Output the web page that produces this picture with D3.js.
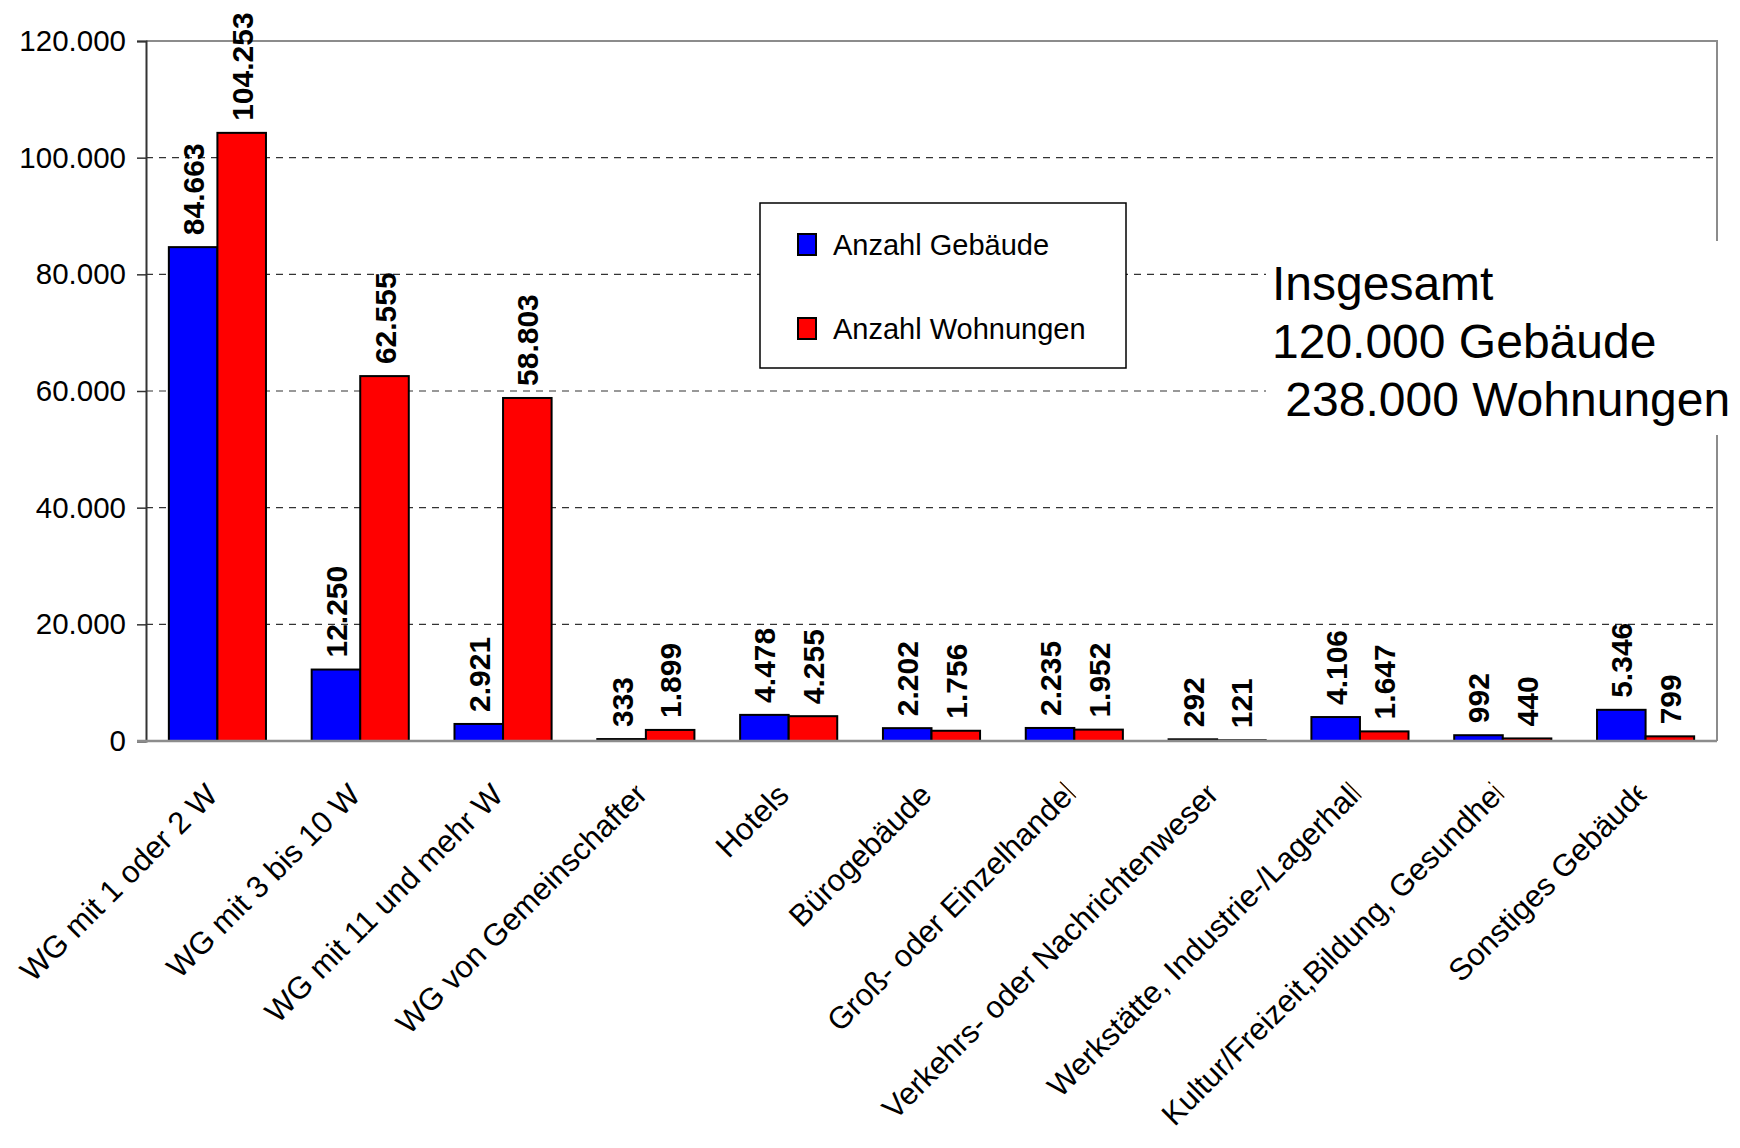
<!DOCTYPE html>
<html>
<head>
<meta charset="utf-8">
<script src="https://cdn.jsdelivr.net/npm/d3@7"></script>
<style>
  body { margin: 0; background: #fff; }
  svg { display: block; }
  text { font-family: "Liberation Sans", Arial, sans-serif; }
</style>
</head>
<body>
<div id="chart"></div>
<script>
// Data
const categories = [
    'WG mit 1 oder 2 W',
    'WG mit 3 bis 10 W',
    'WG mit 11 und mehr W',
    'WG von Gemeinschaften',
    'Hotels',
    'Bürogebäude',
    'Groß- oder Einzelhandel',
    'Verkehrs- oder Nachrichtenwesen',
    'Werkstätte, Industrie-/Lagerhall',
    'Kultur/Freizeit,Bildung, Gesundhei',
    'Sonstiges Gebäude'
];
const truncated = [false, false, false, true, false, false, true, true, true, true, true];
const gebaeude = [84663, 12250, 2921, 333, 4478, 2202, 2235, 292, 4106, 992, 5346];
const wohnungen = [104253, 62555, 58803, 1899, 4255, 1756, 1952, 121, 1647, 440, 799];
const seriesNames = ['Anzahl Gebäude', 'Anzahl Wohnungen'];
const seriesColors = ['#0000ff', '#ff0000'];
const yTicks = [0, 20000, 40000, 60000, 80000, 100000, 120000];
const totalLines = ['Insgesamt', '120.000 Gebäude', '\u00a0238.000 Wohnungen'];

const width = 1740;
const height = 1148;
const margin = { top: 41, right: 23, bottom: 407, left: 146 };

const de = d3.formatLocale({ decimal: ',', thousands: '.', grouping: [3], currency: ['', ' €'] });
const fmt = de.format(',d');

const svg = d3.select('#chart')
    .append('svg')
    .attr('width', width)
    .attr('height', height);

const x0 = d3.scaleBand()
    .domain(categories)
    .range([margin.left, width - margin.right])
    .paddingInner(0.32)
    .paddingOuter(0.16);

const x1 = d3.scaleBand()
    .domain(seriesNames)
    .range([0, x0.bandwidth()]);

const y = d3.scaleLinear()
    .domain([0, 120000])
    .range([height - margin.bottom, margin.top]);

// Gridlines (dashed)
svg.append('g')
    .selectAll('line')
    .data(yTicks.filter((t) => t > 0 && t < 120000))
    .enter()
    .append('line')
    .attr('x1', margin.left)
    .attr('x2', width - margin.right)
    .attr('y1', (d) => y(d))
    .attr('y2', (d) => y(d))
    .attr('stroke', '#333')
    .attr('stroke-width', 1.2)
    .attr('stroke-dasharray', '7,6');

// Plot area border (top and right)
svg.append('path')
    .attr('d', `M${margin.left},${y(120000)}H${width - margin.right}V${y(0)}`)
    .attr('fill', 'none')
    .attr('stroke', '#8c8c8c')
    .attr('stroke-width', 2);

// Y axis
const yAxis = svg.append('g')
    .attr('transform', `translate(${margin.left},0)`)
    .call(d3.axisLeft(y).tickValues(yTicks).tickFormat(fmt).tickSize(9).tickPadding(11));
yAxis.select('.domain').attr('stroke', '#333').attr('stroke-width', 2);
yAxis.selectAll('.tick line').attr('stroke', '#333').attr('stroke-width', 1.5);
yAxis.selectAll('.tick text')
    .attr('font-size', 29.5)
    .attr('fill', '#000')
    .style('font-family', '"Liberation Sans", Arial, sans-serif');

// Bars
const series = [gebaeude, wohnungen];
const groups = svg.append('g')
    .selectAll('g')
    .data(categories)
    .enter()
    .append('g')
    .attr('transform', (d) => `translate(${x0(d)},0)`);

groups.selectAll('rect')
    .data((d, i) => series.map((s, k) => ({ key: seriesNames[k], value: s[i], color: seriesColors[k] })))
    .enter()
    .append('rect')
    .attr('x', (d) => x1(d.key))
    .attr('width', x1.bandwidth())
    .attr('y', (d) => y(d.value))
    .attr('height', (d) => y(0) - y(d.value))
    .attr('fill', (d) => d.color)
    .attr('stroke', '#000')
    .attr('stroke-width', 2);

// Value labels
groups.selectAll('text.value')
    .data((d, i) => series.map((s, k) => ({ key: seriesNames[k], value: s[i] })))
    .enter()
    .append('text')
    .attr('class', 'value')
    .attr('transform', (d) => `translate(${x1(d.key) + x1.bandwidth() / 2 + 11},${y(d.value) - 12}) rotate(-90)`)
    .attr('font-size', 30)
    .attr('font-weight', 'bold')
    .attr('fill', '#000')
    .text((d) => fmt(d.value));

// Bottom axis line
svg.append('line')
    .attr('x1', margin.left - 9)
    .attr('x2', width - margin.right)
    .attr('y1', y(0))
    .attr('y2', y(0))
    .attr('stroke', '#8c8c8c')
    .attr('stroke-width', 2.5);

// Category labels, rotated 45°, last character clipped where Excel cut them
const defs = svg.append('defs');
const labels = svg.append('g')
    .selectAll('g')
    .data(categories)
    .enter()
    .append('g')
    .attr('transform', (d) => `translate(${x0(d) + x0.bandwidth() / 2 + 2},${y(0) + 56}) rotate(-45)`);

labels.each(function (d, i) {
    const g = d3.select(this);
    const t = g.append('text')
        .attr('text-anchor', 'end')
        .attr('font-size', 31)
        .attr('fill', '#000')
        .text(d);
    if (truncated[i]) {
        const n = d.length;
        const w = t.node().getSubStringLength(n - 1, 1);
        t.attr('x', w * 0.5);
        defs.append('clipPath')
            .attr('id', 'clip' + i)
            .append('rect')
            .attr('x', -2000)
            .attr('y', -60)
            .attr('width', 2000)
            .attr('height', 120);
        t.attr('clip-path', `url(#clip${i})`);
    }
});

// Legend
const legend = svg.append('g').attr('transform', 'translate(760,203)');
legend.append('rect')
    .attr('width', 366)
    .attr('height', 165)
    .attr('fill', '#fff')
    .attr('stroke', '#000')
    .attr('stroke-width', 1.5);
const items = legend.selectAll('g.item')
    .data(seriesNames)
    .enter()
    .append('g')
    .attr('class', 'item')
    .attr('transform', (d, i) => `translate(38,${31 + i * 84})`);
items.append('rect')
    .attr('width', 18)
    .attr('height', 21)
    .attr('fill', (d, i) => seriesColors[i])
    .attr('stroke', '#000')
    .attr('stroke-width', 2);
items.append('text')
    .attr('x', 35)
    .attr('y', 21)
    .attr('font-size', 29)
    .attr('fill', '#000')
    .text((d) => d);

// Totals text box covering the right border
svg.append('rect')
    .attr('x', 1266)
    .attr('y', 241)
    .attr('width', width - 1266)
    .attr('height', 194)
    .attr('fill', '#fff');
svg.append('g')
    .selectAll('text')
    .data(totalLines)
    .enter()
    .append('text')
    .attr('x', 1272)
    .attr('y', (d, i) => 300 + i * 58)
    .attr('font-size', 48)
    .attr('fill', '#000')
    .text((d) => d);
</script>
</body>
</html>
